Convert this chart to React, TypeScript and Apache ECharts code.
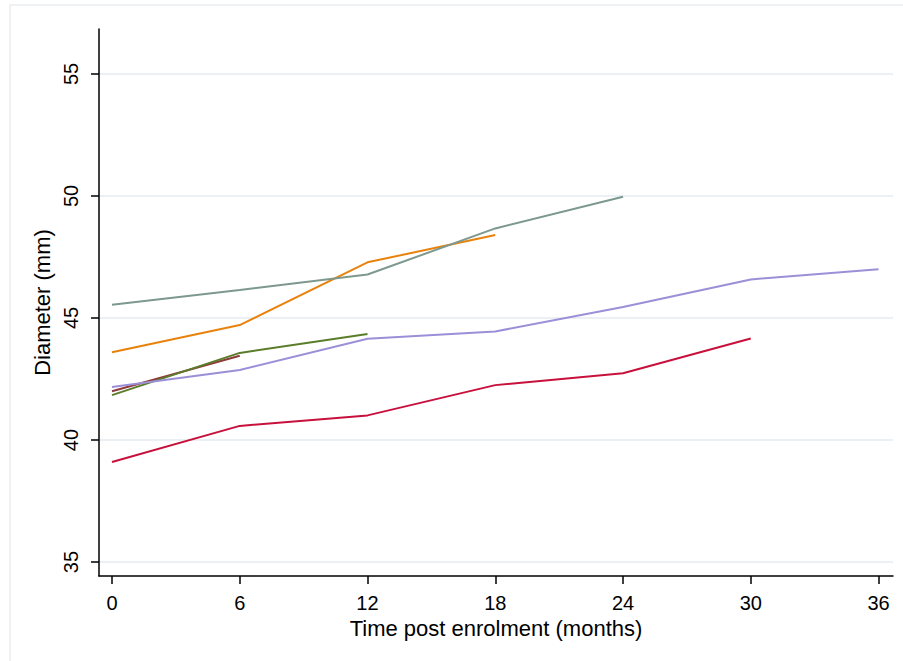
import React, { useEffect, useRef } from "react";
import * as echarts from "echarts";

const months = [0, 6, 12, 18, 24, 30, 36];
const xTicks = [0, 6, 12, 18, 24, 30, 36];
const yTicks = [35, 40, 45, 50, 55];

const redSeries = [39.1, 40.58, 41.01, 42.25, 42.74, 44.16];
const brownSeries = [42.0, 43.45];
const greenSeries = [41.84, 43.57, 44.34];
const orangeSeries = [43.6, 44.71, 47.28, 48.4];
const graySeries = [45.54, 46.15, 46.78, 48.67, 49.97];
const purpleSeries = [42.17, 42.87, 44.15, 44.45, 45.45, 46.58, 47.0];

const seriesList = [
  { name: "A", values: redSeries, color: "#c8103c" },
  { name: "B", values: brownSeries, color: "#8e3a3a" },
  { name: "C", values: greenSeries, color: "#5a7d2a" },
  { name: "D", values: orangeSeries, color: "#e8820c" },
  { name: "E", values: graySeries, color: "#7d988d" },
  { name: "F", values: purpleSeries, color: "#9b8fd8" },
];

export default function App() {
  const ref = useRef<HTMLDivElement>(null);
  useEffect(() => {
    document.body.style.margin = "0";
    const chart = echarts.init(ref.current!, null, { renderer: "svg" });
    const font = "Liberation Sans, Arial, sans-serif";
    const series: any[] = seriesList.map((s) => ({
      name: s.name,
      type: "line",
      data: s.values.map((v, i) => [months[i], v]),
      showSymbol: false,
      symbol: "none",
      lineStyle: { color: s.color, width: 2 },
      itemStyle: { color: s.color },
      z: 3,
    }));
    chart.setOption({
      animation: false,
      backgroundColor: "#ffffff",
      graphic: [
        {
          type: "rect",
          shape: { x: 10, y: 5, width: 900, height: 670 },
          style: { fill: "none", stroke: "#eef2f4", lineWidth: 2 },
          silent: true,
          z: -10,
        },
      ],
      grid: { left: 99, top: 29, right: 10, bottom: 85, containLabel: false },
      xAxis: {
        type: "value",
        min: -0.61,
        max: 36.68,
        name: "Time post enrolment (months)",
        nameLocation: "middle",
        nameGap: 40,
        nameTextStyle: { fontSize: 22, color: "#000", fontFamily: font },
        axisLine: { show: true, onZero: false, lineStyle: { color: "#000", width: 1.5 } },
        axisTick: {
          show: true,
          length: 8,
          customValues: xTicks,
          lineStyle: { color: "#000", width: 1.5 },
        },
        axisLabel: {
          customValues: xTicks,
          fontSize: 20,
          color: "#000",
          fontFamily: font,
          margin: 17,
        },
        splitLine: { show: false },
      },
      yAxis: {
        type: "value",
        min: 34.43,
        max: 56.84,
        name: "Diameter (mm)",
        nameLocation: "middle",
        nameGap: 40,
        nameTextStyle: { fontSize: 22, color: "#000", fontFamily: font },
        axisLine: { show: true, onZero: false, lineStyle: { color: "#000", width: 1.5 } },
        axisTick: {
          show: true,
          length: 8,
          customValues: yTicks,
          lineStyle: { color: "#000", width: 1.5 },
        },
        axisLabel: {
          customValues: yTicks,
          fontSize: 20,
          color: "#000",
          fontFamily: font,
          rotate: 90,
          margin: 18,
        },
        splitLine: { show: true, lineStyle: { color: "#eaf0f3", width: 2 } },
      },
      series,
    });
    return () => chart.dispose();
  }, []);
  return (
    <div
      ref={ref}
      style={{ position: "absolute", left: 0, top: 0, width: 903, height: 661 }}
    />
  );
}
